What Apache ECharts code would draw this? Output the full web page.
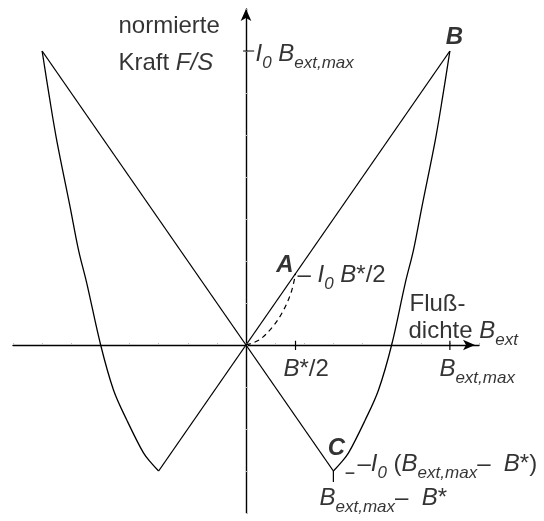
<!DOCTYPE html>
<html>
<head>
<meta charset="utf-8">
<script src="https://cdn.jsdelivr.net/npm/echarts@6/dist/echarts.min.js"></script>
<style>
  html, body { margin: 0; padding: 0; background: #fff; }
  #chart { width: 544px; height: 521px; }
</style>
</head>
<body>
<div id="chart"></div>
<script>
// Normalised force F/S versus external flux density B_ext (hysteresis loop)
const FONT = "'Liberation Sans', Arial, Helvetica, sans-serif";

// Axis ranges (units: one faint tick per unit)
const xRange = [-8, 8];
const yRange = [-4, 8];

// Characteristic values
const bStarHalf = 1.7;        // B*/2
const bExtMax = 7;            // B_ext,max
const forceMax = 7;           // I0 B_ext,max
const pointA = [1.7, 1.7];
const pointB = [7, 7];
const pointC = [3, -3];       // (B_ext,max - B*, -I0 (B_ext,max - B*))

// Straight branches
const descentX = [-7, 3];
const descentY = [7, -3];
const ascentX = [-3, 7];
const ascentY = [-3, 7];

// Curved branches
const leftBranchX = [-7, -6.75, -6.5, -6.04, -5.75, -5.47, -4.99, -4.55, -4.09, -3.52, -3.24, -3];
const leftBranchY = [7, 5.9, 4.88, 3.29, 2.26, 1.48, 0, -1.07, -1.79, -2.57, -2.82, -3];
const rightBranchX = [3, 3.24, 3.52, 4.09, 4.55, 5.0, 5.47, 5.75, 6.04, 6.5, 6.75, 7];
const rightBranchY = [-3, -2.82, -2.57, -1.79, -1.07, 0, 1.48, 2.26, 3.29, 4.88, 5.9, 7];

// Initial (virgin) curve up to A, dashed
const virginX = [0, 0.45, 0.9, 1.25, 1.55, 1.7];
const virginY = [0, 0.12, 0.42, 0.78, 1.25, 1.7];

const zip = (xs, ys) => xs.map((x, i) => [x, ys[i]]);

const lineStyleBase = { color: '#000', width: 1.3 };
function curve(name, xs, ys, extra) {
  return Object.assign({
    name, type: 'line', data: zip(xs, ys), symbol: 'none',
    lineStyle: Object.assign({}, lineStyleBase), silent: true, z: 3
  }, extra || {});
}

// Short marker ticks on and near the axes
const tickSegments = [
  [[-0.1, forceMax], [0.28, forceMax]],
  [[bStarHalf, 0.1], [bStarHalf, -0.12]],
  [[bExtMax, 0.1], [bExtMax, -0.12]],
  [[pointC[0], pointC[1]], [pointC[0], pointC[1] - 0.26]],
  [[pointC[0] + 0.42, pointC[1] - 0.05], [pointC[0] + 0.72, pointC[1] - 0.05]]
];

const rich = {
  t: { fontSize: 24, fontFamily: FONT, color: '#000', lineHeight: 28 },
  i: { fontSize: 24, fontFamily: FONT, color: '#000', fontStyle: 'italic', lineHeight: 28 },
  s: { fontSize: 17, fontFamily: FONT, color: '#000', fontStyle: 'italic', lineHeight: 28, padding: [18, 0, 0, 0] },
  b: { fontSize: 24, fontFamily: FONT, color: '#000', fontStyle: 'italic', fontWeight: 'bold', lineHeight: 28 }
};

function note(at, offset, text, align) {
  return {
    value: at,
    label: {
      show: true, position: offset, align: align || 'left', verticalAlign: 'middle',
      formatter: text, rich, fontSize: 24, fontFamily: FONT, color: '#000'
    }
  };
}

const notes = [
  note([0, yRange[1]], [-127, 18], '{t|normierte}'),
  note([0, yRange[1]], [-127, 55], '{t|Kraft }{i|F/S}'),
  note([0, forceMax], [10, 4], '{i|I}{s|0}{t| }{i|B}{s|ext,max}'),
  note(pointB, [5, -13], '{b|B}', 'center'),
  note(pointA, [-10, -8], '{b|A}', 'center'),
  note(pointA, [2.5, 2.5], '{t|– }{i|I}{s|0}{t| }{i|B}{t|*/2}'),
  note([xRange[1], 0], [-69, -40], '{t|Fluß-}'),
  note([xRange[1], 0], [-70, -13], '{t|dichte }{i|B}{s|ext}'),
  note([bStarHalf, 0], [-11.5, 25], '{i|B}{t|*/2}'),
  note([bExtMax, 0], [-10, 25], '{i|B}{s|ext,max}'),
  note(pointC, [3.6, -22], '{b|C}', 'center'),
  note(pointC, [24.6, -6], '{t|–}{i|I}{s|0}{t| (}{i|B}{s|ext,max}{t|–  }{i|B}{t|*)}'),
  note(pointC, [-13.4, 28], '{i|B}{s|ext,max}{t|–  }{i|B}{t|*}')
];

const series = [
  curve('descent', descentX, descentY),
  curve('ascent', ascentX, ascentY),
  curve('left branch', leftBranchX, leftBranchY, { smooth: 0.35 }),
  curve('right branch', rightBranchX, rightBranchY, { smooth: 0.35 }),
  curve('virgin', virginX, virginY, { smooth: 0.35, lineStyle: { color: '#000', width: 1.2, type: [5, 4] } })
];
tickSegments.forEach((seg, k) => {
  series.push({
    name: 'tick' + k, type: 'line', data: seg, symbol: 'none', silent: true,
    lineStyle: { color: '#000', width: 1.2 }, z: 4
  });
});
series.push({
  name: 'notes', type: 'scatter', data: notes, symbolSize: 1,
  itemStyle: { color: 'rgba(0,0,0,0)' }, silent: true, z: 5
});

const chart = echarts.init(document.getElementById('chart'), null, { renderer: 'canvas' });
chart.setOption({
  animation: false,
  backgroundColor: '#fff',
  grid: { left: 13, right: 65, top: 9, bottom: 8, containLabel: false },
  xAxis: {
    type: 'value', min: xRange[0], max: xRange[1], interval: 1,
    axisLine: {
      onZero: true, symbol: ['none', 'arrow'], symbolSize: [8, 12], symbolOffset: [0, -4],
      lineStyle: { color: '#000', width: 1.4 }
    },
    axisTick: { show: true, inside: true, length: 2, lineStyle: { color: '#bbb', width: 1 } },
    axisLabel: { show: false },
    splitLine: { show: false }
  },
  yAxis: {
    type: 'value', min: yRange[0], max: yRange[1], interval: 1,
    axisLine: {
      onZero: true, symbol: ['none', 'arrow'], symbolSize: [8, 12], symbolOffset: [0, 0],
      lineStyle: { color: '#000', width: 1.4 }
    },
    axisTick: { show: true, inside: true, length: 2, lineStyle: { color: '#bbb', width: 1 } },
    axisLabel: { show: false },
    splitLine: { show: false }
  },
  series
});
</script>
</body>
</html>
